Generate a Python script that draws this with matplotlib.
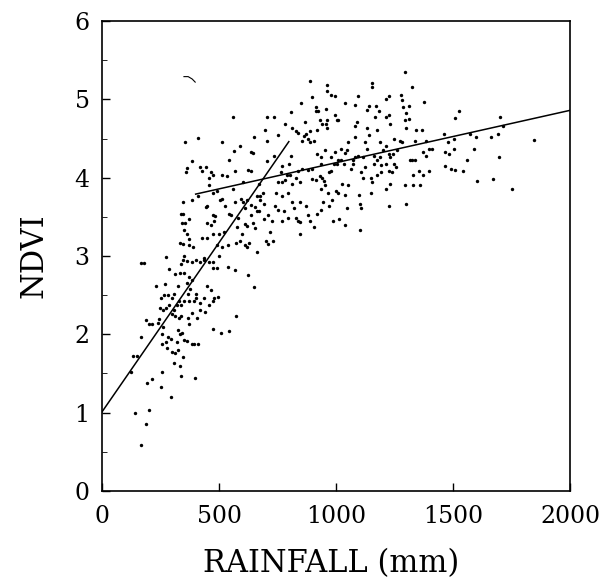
import matplotlib.pyplot as plt
from matplotlib.ticker import MultipleLocator

# points (rainfall mm, NDVI)
rainfall = [
    168, 190, 141, 202, 294, 192, 252, 212, 257, 124, 338, 398, 334, 309, 348, 131, 148, 168,
    190, 202, 215, 229, 250, 265, 267, 272, 286, 168, 178, 245, 240, 262, 257, 257, 274, 282,
    296, 279, 299, 311, 324, 319, 333, 326, 350, 363, 383, 395, 412, 343, 373, 366, 383, 405,
    420, 442, 476, 509, 543, 573, 299, 313, 329, 336, 306, 319, 336, 329, 350, 371, 366, 376,
    363, 383, 403, 395, 400, 434, 450, 467, 480, 496, 476, 459, 417, 249, 262, 274, 286, 308,
    282, 299, 324, 313, 333, 350, 371, 336, 346, 363, 383, 400, 417, 434, 459, 476, 350, 370,
    390, 333, 346, 370, 434, 425, 476, 493, 493, 501, 514, 539, 501, 521, 450, 476, 480, 450,
    467, 445, 450, 476, 484, 504, 511, 476, 493, 383, 346, 346, 353, 350, 363, 358, 353, 383,
    412, 420, 445, 467, 474, 514, 459, 459, 511, 560, 565, 590, 543, 534, 568, 602, 560, 526,
    543, 551, 568, 580, 592, 601, 610, 618, 635, 610, 618, 576, 598, 573, 588, 610, 627, 618,
    662, 566, 539, 623, 650, 644, 652, 635, 660, 669, 652, 660, 677, 686, 669, 635, 644, 650,
    623, 635, 677, 694, 694, 711, 699, 708, 731, 716, 728, 740, 753, 770, 745, 750, 763, 768,
    797, 809, 703, 733, 703, 703, 697, 736, 753, 783, 806, 812, 829, 837, 850, 866, 862, 854,
    870, 879, 887, 896, 913, 913, 921, 930, 939, 919, 887, 904, 887, 963, 963, 980, 997, 955,
    963, 997, 1005, 955, 963, 951, 997, 980, 920, 936, 936, 896, 879, 854, 837, 829, 803, 790,
    783, 770, 812, 846, 896, 913, 930, 939, 947, 953, 935, 971, 980, 993, 1005, 1010, 1022,
    1035, 1039, 1047, 1022, 1052, 1039, 1010, 795, 770, 812, 846, 820, 778, 795, 829, 837, 846,
    846, 871, 879, 887, 904, 919, 936, 944, 971, 983, 966, 1000, 1007, 988, 1013, 1025, 1039,
    1047, 1039, 1103, 1052, 1064, 1072, 1081, 1072, 1092, 1081, 1081, 1089, 1081, 1092, 1131,
    1131, 1140, 1153, 1153, 1170, 1183, 1166, 1175, 1187, 1140, 1124, 1131, 1115, 1160, 1175,
    1187, 1199, 1215, 1224, 1232, 1215, 1190, 1160, 1124, 1106, 1115, 1148, 1153, 1175, 1190,
    1224, 1240, 1249, 1257, 1245, 1260, 1271, 1283, 1249, 1232, 1215, 1224, 1212, 1227, 1277,
    1294, 1281, 1286, 1311, 1299, 1294, 1297, 1311, 1324, 1341, 1336, 1324, 1336, 1316, 1328,
    1328, 1294, 1299, 1232, 1227, 1215, 1148, 1103, 1106, 1097, 1376, 1367, 1383, 1371, 1383,
    1397, 1356, 1373, 1397, 1360, 1408, 1461, 1477, 1502, 1507, 1524, 1467, 1484, 1502, 1467,
    1492, 1507, 1541, 1561, 1570, 1587, 1598, 1602, 1660, 1672, 1692, 1696, 1701, 1713, 1750,
    1846, 336, 343, 371, 361, 408, 425,
]
ndvi = [
    0.59, 0.86, 1.00, 1.03, 1.20, 1.38, 1.33, 1.43, 1.52, 1.52, 1.47, 1.44, 1.59, 1.64, 1.71, 1.72, 1.72, 1.96,
    2.18, 2.13, 2.13, 2.62, 2.47, 2.50, 2.64, 2.99, 2.83, 2.91, 2.91, 2.19, 2.14, 2.09, 2.01, 1.88, 1.90, 1.97,
    1.94, 1.83, 1.78, 1.76, 1.80, 1.90, 2.00, 2.05, 1.93, 1.92, 1.88, 1.88, 1.88, 2.02, 2.13, 2.21, 2.27, 2.21,
    2.31, 2.28, 2.07, 2.02, 2.04, 2.24, 2.26, 2.24, 2.21, 2.23, 2.31, 2.38, 2.37, 2.43, 2.43, 2.43, 2.52, 2.58,
    2.66, 2.69, 2.52, 2.43, 2.47, 2.47, 2.62, 2.57, 2.47, 2.48, 2.43, 2.38, 2.40, 2.33, 2.31, 2.33, 2.38, 2.52,
    2.50, 2.47, 2.62, 2.77, 2.78, 2.78, 2.73, 2.90, 2.95, 2.93, 2.92, 2.95, 2.92, 2.95, 2.92, 2.92, 3.00, 3.14,
    3.11, 3.16, 3.15, 3.22, 2.98, 3.23, 2.85, 2.85, 3.14, 3.00, 3.11, 3.14, 3.28, 3.30, 3.23, 3.28, 3.45, 3.42,
    3.40, 3.63, 3.64, 3.52, 3.51, 3.71, 3.73, 3.81, 3.83, 3.71, 3.54, 3.69, 3.42, 3.33, 3.28, 4.07, 4.45, 4.21,
    4.51, 4.13, 4.14, 4.07, 4.04, 4.04, 3.99, 3.91, 4.46, 4.78, 4.34, 4.40, 4.22, 4.02, 4.09, 3.94, 3.85, 3.64,
    3.54, 3.52, 3.69, 3.49, 3.73, 3.69, 3.61, 3.71, 3.65, 3.41, 3.38, 3.37, 3.28, 3.16, 3.19, 3.14, 3.16, 3.11,
    3.05, 2.82, 2.86, 2.76, 2.61, 3.42, 3.36, 3.52, 3.57, 3.58, 3.62, 3.76, 3.76, 3.81, 3.92, 4.33, 4.32, 4.52,
    4.10, 4.09, 3.71, 3.67, 3.47, 3.52, 3.19, 3.15, 3.19, 3.30, 3.45, 3.64, 3.59, 3.45, 3.81, 3.94, 4.07, 4.15,
    4.18, 4.28, 4.21, 4.28, 4.47, 4.78, 4.61, 4.78, 4.55, 4.68, 4.84, 4.64, 4.59, 4.57, 4.95, 4.71, 4.53, 4.47,
    4.56, 4.49, 5.24, 5.03, 4.90, 4.85, 4.85, 4.73, 4.68, 4.61, 4.59, 4.47, 4.45, 5.18, 5.11, 5.06, 5.04, 4.88,
    4.74, 4.80, 4.73, 4.68, 4.63, 4.35, 4.33, 4.26, 4.30, 4.26, 4.18, 4.11, 4.10, 4.11, 4.09, 4.00, 4.04, 4.03,
    3.97, 3.95, 3.92, 3.95, 3.98, 3.97, 4.02, 4.00, 3.96, 3.90, 3.85, 4.07, 4.09, 4.17, 4.18, 4.22, 4.23,
    4.18, 4.32, 4.35, 4.37, 4.45, 4.95, 4.73, 3.81, 3.76, 3.69, 3.69, 3.61, 3.58, 3.49, 3.49, 3.45, 3.43,
    3.28, 3.64, 3.52, 3.45, 3.37, 3.54, 3.59, 3.69, 3.64, 3.71, 3.81, 3.83, 3.80, 3.45, 3.47, 3.92, 3.78,
    3.61, 3.40, 3.33, 3.91, 4.11, 4.23, 4.26, 4.18, 4.28, 4.52, 4.66, 4.71, 4.93, 5.04, 4.63,
    4.87, 4.92, 5.21, 5.16, 4.91, 4.85, 4.78, 4.61, 4.45, 4.54, 4.45, 4.37, 4.26, 4.28, 4.23,
    4.26, 4.35, 4.40, 4.30, 4.26, 4.18, 4.16, 4.18, 4.14, 4.07, 3.99, 3.99, 3.95, 4.04, 4.07,
    4.09, 4.07, 4.18, 4.14, 4.30, 4.35, 4.47, 4.45, 4.49, 4.68, 4.78, 4.80, 5.00, 5.04, 5.06,
    5.35, 4.99, 4.90, 4.92, 4.83, 4.73, 4.64, 4.75, 5.16, 4.61, 4.47, 4.23, 4.22, 4.23, 4.04,
    3.90, 3.90, 3.66, 3.92, 3.64, 3.85, 3.81, 3.66, 3.61, 3.78, 4.97, 4.61, 4.47, 4.33, 4.28,
    4.37, 4.09, 4.04, 4.09, 3.91, 4.37, 4.56, 4.45, 4.49, 4.76, 4.85, 4.33, 4.30, 4.37, 4.15,
    4.11, 4.10, 4.08, 4.23, 4.56, 4.37, 4.52, 3.96, 4.52, 3.98, 4.56, 4.27, 4.78, 4.66, 3.85,
    4.48, 3.54, 3.42, 3.47, 4.12, 3.76, 4.09,
]

# the two fitted lines
fit_low_x = [0, 798]
fit_low_y = [1.01, 4.46]
fit_high_x = [400, 2000]
fit_high_y = [3.79, 4.86]

# small stray stroke near the top of the scan
stroke_x = [350, 368, 385, 398]
stroke_y = [5.29, 5.29, 5.26, 5.22]

plt.rcParams['font.family'] = ['DejaVu Serif']

fig = plt.figure(figsize=(6.12, 5.82), dpi=100)
ax = fig.add_axes([0.1667, 0.1564, 0.765, 0.8075])

n = min(len(rainfall), len(ndvi))
ax.scatter(rainfall[:n], ndvi[:n], s=6, c='black', linewidths=0)
ax.plot(fit_low_x, fit_low_y, color='black', lw=1.1)
ax.plot(fit_high_x, fit_high_y, color='black', lw=1.1)
ax.plot(stroke_x, stroke_y, color='black', lw=0.8)

ax.set_xlim(0, 2000)
ax.set_ylim(0, 6)
ax.xaxis.set_major_locator(MultipleLocator(500))
ax.yaxis.set_major_locator(MultipleLocator(1))
ax.yaxis.set_minor_locator(MultipleLocator(0.5))
ax.tick_params(direction='in', labelsize=17, length=6, width=1)
ax.tick_params(axis='x', pad=10)
ax.tick_params(axis='y', pad=9)
ax.tick_params(which='minor', direction='in', length=3.5)
for sp in ax.spines.values():
    sp.set_linewidth(1.2)

ax.set_xlabel("RAINFALL (mm)", fontsize=22)
ax.set_ylabel("NDVI", fontsize=22)
ax.xaxis.set_label_coords(0.49, -0.122)
ax.yaxis.set_label_coords(-0.112, 0.5)

fig.savefig("out.png", dpi=100)
